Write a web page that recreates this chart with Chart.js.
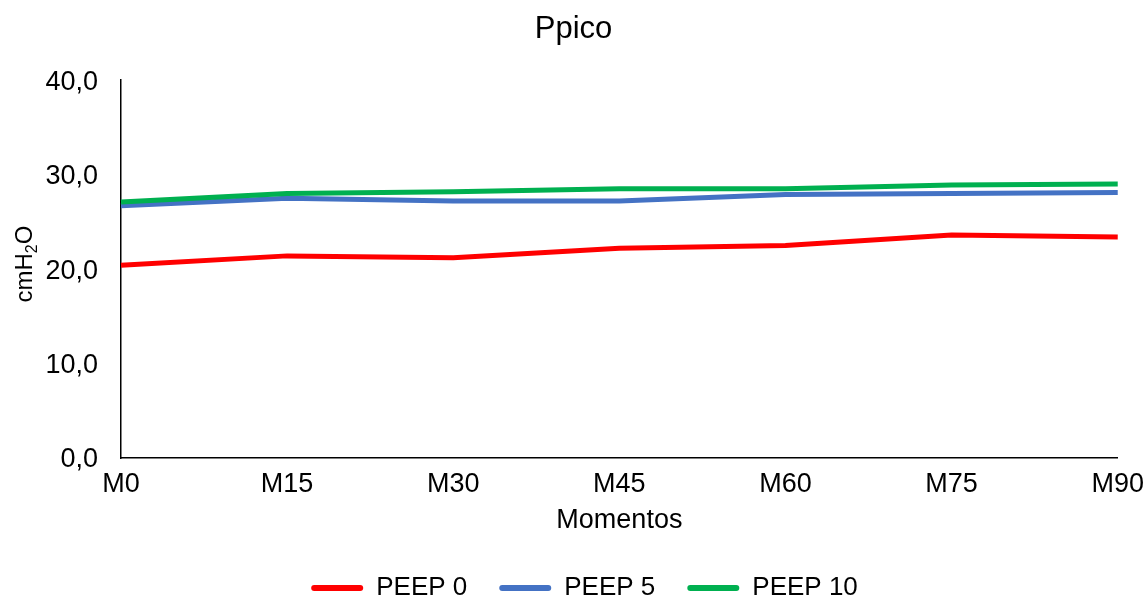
<!DOCTYPE html>
<html>
<head>
<meta charset="utf-8">
<script src="https://cdn.jsdelivr.net/npm/chart.js@4/dist/chart.umd.min.js"></script>
<style>
  html, body { margin: 0; padding: 0; background: #fff; }
  #wrap { width: 1147px; height: 598px; }
</style>
</head>
<body>
<div id="wrap"><canvas id="c" width="1147" height="598"></canvas></div>
<script>
// Peak pressure per moment, one series per PEEP level
const moments = ['M0', 'M15', 'M30', 'M45', 'M60', 'M75', 'M90'];
const peep0  = [20.4, 21.4, 21.2, 22.2, 22.5, 23.6, 23.4];
const peep5  = [26.7, 27.5, 27.2, 27.2, 27.9, 28.0, 28.1];
const peep10 = [27.1, 28.0, 28.2, 28.5, 28.5, 28.9, 29.0];
const seriesNames = ['PEEP 0', 'PEEP 5', 'PEEP 10'];
const seriesColors = ['#ff0000', '#4472c4', '#00b050'];

const FONT = "'Liberation Sans', Arial, sans-serif";
const TEXT = '#000000';

// Rotated y-axis title with a subscript digit: cmH₂O
const yTitlePlugin = {
  id: 'yTitle',
  afterDraw(chart) {
    const ctx = chart.ctx;
    const area = chart.chartArea;
    const big = 24, small = 16;
    const partA = 'cmH', partB = '2', partC = 'O';
    ctx.save();
    ctx.fillStyle = TEXT;
    ctx.textBaseline = 'alphabetic';
    ctx.font = big + 'px ' + FONT;
    const wA = ctx.measureText(partA).width;
    const wC = ctx.measureText(partC).width;
    ctx.font = small + 'px ' + FONT;
    const wB = ctx.measureText(partB).width;
    const total = wA + wB + wC;
    // baseline sits on the right-hand side once rotated
    ctx.translate(32, (area.top + area.bottom) / 2 - 5);
    ctx.rotate(-Math.PI / 2);
    let x = -total / 2;
    ctx.textAlign = 'left';
    ctx.font = big + 'px ' + FONT;
    ctx.fillText(partA, x, 0);
    x += wA;
    ctx.font = small + 'px ' + FONT;
    ctx.fillText(partB, x, 5);
    x += wB;
    ctx.font = big + 'px ' + FONT;
    ctx.fillText(partC, x, 0);
    ctx.restore();
  }
};

// Legend band: fixed height at the bottom, row centred slightly right of the canvas middle
const legendBand = {
  id: 'legendBand',
  beforeUpdate(chart) {
    const lg = chart.legend;
    if (lg && !lg._bandPatched) {
      const fit = lg.fit;
      lg.fit = function () { fit.call(this); this.height = 55; };
      lg._bandPatched = true;
    }
  },
  afterLayout(chart) {
    const lg = chart.legend;
    if (lg) { lg.left += 11; lg.right += 11; }
  }
};

const datasets = [peep0, peep5, peep10].map((vals, i) => ({
  label: seriesNames[i],
  data: vals,
  borderColor: seriesColors[i],
  backgroundColor: seriesColors[i],
  borderWidth: 5,
  pointRadius: 0,
  pointHoverRadius: 0,
  tension: 0,
  order: 3 - i
}));

new Chart(document.getElementById('c'), {
  type: 'line',
  data: { labels: moments, datasets },
  plugins: [yTitlePlugin, legendBand],
  options: {
    responsive: false,
    animation: false,
    layout: { padding: { left: 0, right: 0, top: 0, bottom: 0 } },
    plugins: {
      tooltip: { enabled: false },
      title: {
        display: true,
        text: 'Ppico',
        color: TEXT,
        font: { family: FONT, size: 31, weight: 'normal' },
        padding: { top: 11, bottom: 32 }
      },
      legend: {
        position: 'bottom',
        labels: {
          color: TEXT,
          font: { family: FONT, size: 26 },
          boxWidth: 52,
          boxHeight: 6,
          padding: 32,
          useBorderRadius: true,
          borderRadius: 3,
          sort: (a, b) => a.datasetIndex - b.datasetIndex,
          generateLabels(chart) {
            const items = Chart.defaults.plugins.legend.labels.generateLabels(chart);
            return items.map(it => Object.assign(it, { lineWidth: 0 }));
          }
        }
      }
    },
    scales: {
      x: {
        offset: false,
        grid: { display: false, drawTicks: true, tickLength: 7, tickColor: 'rgba(0,0,0,0)' },
        border: { display: true, color: '#000000', width: 1.5 },
        ticks: {
          color: TEXT,
          font: { family: FONT, size: 27 },
          padding: 3,
          maxRotation: 0,
          autoSkip: false
        },
        title: {
          display: true,
          text: 'Momentos',
          color: TEXT,
          font: { family: FONT, size: 27 },
          padding: { top: 0, bottom: 6 }
        },
        afterFit(s) { s.height = 85; }
      },
      y: {
        min: 0,
        max: 40,
        grid: { display: false, drawTicks: false },
        border: { display: true, color: '#000000', width: 1.5 },
        ticks: {
          stepSize: 10,
          color: TEXT,
          font: { family: FONT, size: 27 },
          padding: 23,
          labelOffset: 2,
          callback: v => v.toFixed(1).replace('.', ',')
        },
        afterFit(s) { s.width = 121; }
      }
    }
  }
});
</script>
</body>
</html>
